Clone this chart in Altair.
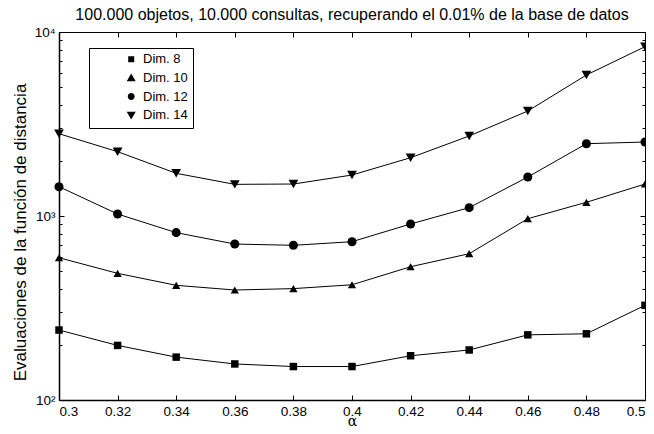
import altair as alt
import pandas as pd

alphas = [0.3, 0.32, 0.34, 0.36, 0.38, 0.4, 0.42, 0.44, 0.46, 0.48, 0.5]
series_names = ["Dim. 8", "Dim. 10", "Dim. 12", "Dim. 14"]
dim8 = [240, 198, 171, 157, 152, 152, 174, 187, 226, 229, 327]
dim10 = [593, 488, 420, 396, 403, 423, 530, 624, 967, 1187, 1492]
dim12 = [1443, 1025, 812, 704, 693, 725, 905, 1110, 1629, 2472, 2524]
dim14 = [2800, 2237, 1706, 1486, 1492, 1670, 2074, 2722, 3720, 5838, 8320]

x_ticks = [0.3, 0.32, 0.34, 0.36, 0.38, 0.4, 0.42, 0.44, 0.46, 0.48, 0.5]
y_ticks = [100, 200, 300, 400, 500, 600, 700, 800, 900,
           1000, 2000, 3000, 4000, 5000, 6000, 7000, 8000, 9000, 10000]

rows = []
for name, vals in zip(series_names, [dim8, dim10, dim12, dim14]):
    for a, v in zip(alphas, vals):
        rows.append({"alpha": a, "value": v, "series": name})
df = pd.DataFrame(rows)

W, H = 586, 368
FONT = "Liberation Sans"

marker_shapes = ["square", "triangle-up", "circle", "triangle-down"]
marker_sizes = [56, 95, 78, 90]

# legend symbols: line segment + marker (custom SVG paths, unit = sqrt(size)/2)
S = 0.684
def sq(c, h):
    return f"M{c-h:.3f},{-h:.3f}L{c+h:.3f},{-h:.3f}L{c+h:.3f},{h:.3f}L{c-h:.3f},{h:.3f}Z"
line_part = f"M{-1+S:.3f},0L{1+S:.3f},0"
legend_paths = [
    line_part + sq(S, 0.14),
    line_part + f"M{S-0.21:.3f},0.16L{S+0.21:.3f},0.16L{S:.3f},-0.2Z",
    line_part + f"M{S+0.16:.3f},0A0.16,0.16,0,1,1,{S-0.16:.3f},0A0.16,0.16,0,1,1,{S+0.16:.3f},0Z",
    line_part + f"M{S-0.21:.3f},-0.16L{S+0.21:.3f},-0.16L{S:.3f},0.2Z",
]

xscale = alt.Scale(domain=[0.3, 0.5], nice=False, zero=False)
yscale = alt.Scale(type="log", domain=[100, 10000], nice=False)

ylabel_expr = ("datum.value == 100 ? '10²' : datum.value == 1000 ? '10³' : "
               "datum.value == 10000 ? '10⁴' : ''")
ytick_size = {"condition": {"test": "datum.value == 1000", "value": 5}, "value": 3}

base = alt.Chart(df)

lines = base.mark_line(color="black", strokeWidth=1).encode(
    x=alt.X("alpha:Q", scale=xscale,
            axis=alt.Axis(values=x_ticks, format="~g", ticks=False,
                          domainColor="black", domainWidth=1.5,
                          labelFont=FONT, labelFontSize=13.5, labelColor="black",
                          labelPadding=4, grid=False,
                          title="α", titleFont="DejaVu Serif", titleFontSize=14,
                          titleFontWeight="normal", titleColor="black",
                          titleY=25, titleBaseline="alphabetic")),
    y=alt.Y("value:Q", scale=yscale,
            axis=alt.Axis(values=y_ticks, labelExpr=ylabel_expr, ticks=False,
                          domainColor="black", domainWidth=1.5,
                          labelFont=FONT, labelFontSize=13.5, labelColor="black",
                          labelPadding=4, grid=False,
                          title="Evaluaciones de la función de distancia",
                          titleFont=FONT, titleFontSize=17,
                          titleFontWeight="normal", titleColor="black",
                          titlePadding=5, titleY=200)),
    detail="series:N",
)

points = base.mark_point(filled=True, color="black", opacity=1).encode(
    x=alt.X("alpha:Q", scale=xscale,
            axis=alt.Axis(orient="top", offset=-H, values=x_ticks, labels=False,
                          domain=False, ticks=True, tickSize=5, tickColor="black",
                          tickWidth=1, grid=False, title=None)),
    y=alt.Y("value:Q", scale=yscale,
            axis=alt.Axis(orient="right", offset=-W, values=y_ticks, labels=False,
                          domain=False, ticks=True, tickSize=ytick_size,
                          tickColor="black", tickWidth=1, grid=False, title=None)),
    shape=alt.Shape("series:N", scale=alt.Scale(domain=series_names, range=marker_shapes),
                    legend=None),
    size=alt.Size("series:N", scale=alt.Scale(domain=series_names, range=marker_sizes),
                  legend=None),
)

legend_layer = base.transform_filter("false").mark_point(
    filled=False, fill="black", fillOpacity=1, stroke="black", strokeWidth=1,
    strokeOpacity=1, opacity=1
).encode(
    x=alt.X("alpha:Q", scale=xscale,
            axis=alt.Axis(orient="bottom", offset=-H, values=x_ticks, labels=False,
                          domain=True, domainColor="black", domainWidth=1,
                          ticks=True, tickSize=5, tickColor="black",
                          tickWidth=1, grid=False, title=None)),
    y=alt.Y("value:Q", scale=yscale,
            axis=alt.Axis(orient="left", offset=-W, values=y_ticks, labels=False,
                          domain=True, domainColor="black", domainWidth=1,
                          ticks=True, tickSize=ytick_size,
                          tickColor="black", tickWidth=1, grid=False, title=None)),
    shape=alt.Shape("series:N", scale=alt.Scale(domain=series_names, range=legend_paths),
                    legend=alt.Legend(title=None, orient="none", legendX=30, legendY=16,
                                      padding=5, strokeColor="black", fillColor="white",
                                      labelFont=FONT, labelFontSize=13, labelColor="black",
                                      labelOffset=4, symbolSize=1850, clipHeight=12.6,
                                      rowPadding=4.6, symbolFillColor="black",
                                      symbolStrokeColor="black", symbolStrokeWidth=1,
                                      symbolOpacity=1)),
)

chart = alt.layer(lines, points, legend_layer).resolve_scale(
    shape="independent", size="independent"
).resolve_axis(
    x="independent", y="independent"
).properties(
    width=W, height=H,
    title=alt.Title("100.000 objetos, 10.000 consultas, recuperando el 0.01% de la base de datos",
                    font=FONT, fontSize=16, fontWeight="normal", color="black",
                    anchor="middle", offset=2),
    autosize=alt.AutoSizeParams(type="none"),
    padding={"left": 51, "top": 24, "right": 1, "bottom": 26},
).configure_view(stroke="black", strokeWidth=1).configure(background="white")

chart.save("out.html", embed_options={"renderer": "svg", "actions": False})
